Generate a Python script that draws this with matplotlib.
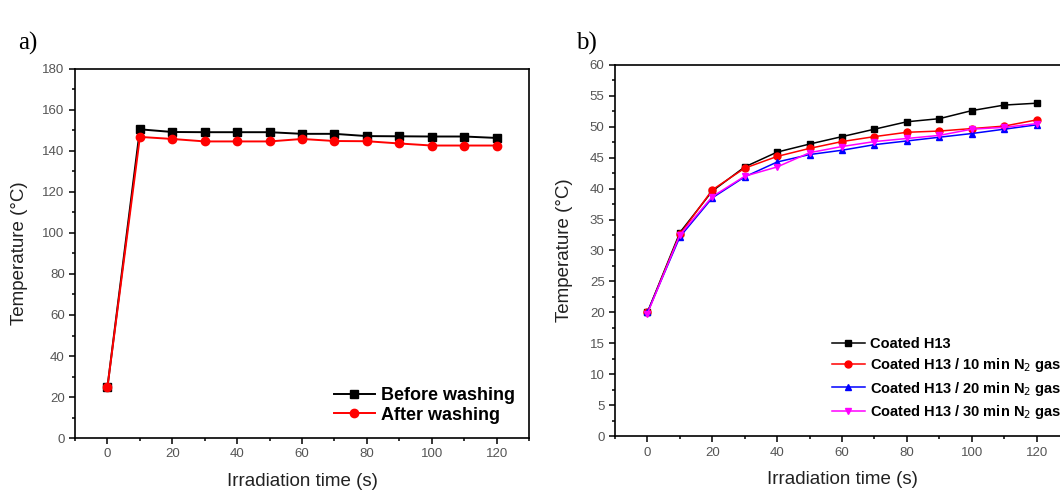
import matplotlib
matplotlib.use('Agg')
import matplotlib.pyplot as plt
from matplotlib.ticker import MultipleLocator

plt.rcParams['font.family'] = ['Liberation Sans', 'DejaVu Sans']

# panel a)
t_a = [0, 10, 20, 30, 40, 50, 60, 70, 80, 90, 100, 110, 120]
before = [25, 150.5, 149.2, 149.1, 149.1, 149.1, 148.3, 148.3, 147.2, 147.1, 147.0, 147.0, 146.3]
after = [25, 146.8, 145.8, 144.6, 144.6, 144.6, 145.8, 144.8, 144.7, 143.6, 142.6, 142.6, 142.6]

# panel b)
t_b = [0, 10, 20, 30, 40, 50, 60, 70, 80, 90, 100, 110, 120]
coated = [20.0, 32.9, 39.6, 43.5, 45.9, 47.2, 48.4, 49.6, 50.8, 51.3, 52.6, 53.5, 53.8]
n2_10 = [20.0, 32.6, 39.8, 43.3, 45.2, 46.5, 47.6, 48.4, 49.1, 49.3, 49.7, 50.1, 51.1]
n2_20 = [20.0, 32.2, 38.5, 41.9, 44.3, 45.5, 46.2, 47.1, 47.7, 48.3, 48.9, 49.6, 50.3]
n2_30 = [19.8, 32.5, 38.7, 42.0, 43.5, 45.8, 46.8, 47.6, 48.1, 48.6, 49.6, 49.9, 50.5]

fig = plt.figure(figsize=(10.6, 4.95), dpi=100)
ax1 = fig.add_axes([0.0708, 0.115, 0.4283, 0.746])
ax2 = fig.add_axes([0.5802, 0.119, 0.4283, 0.750])

def style(ax, ymax, ymaj, ymin, ypad):
  ax.set_xlim(-10, 130)
  ax.set_ylim(0, ymax)
  ax.xaxis.set_major_locator(MultipleLocator(20))
  ax.xaxis.set_minor_locator(MultipleLocator(10))
  ax.yaxis.set_major_locator(MultipleLocator(ymaj))
  ax.yaxis.set_minor_locator(MultipleLocator(ymin))
  ax.tick_params(which='major', direction='out', length=4, width=1.1,
                 labelsize=9.5, labelcolor='#555555')
  ax.tick_params(which='minor', direction='out', length=2.5, width=1.1)
  for s in ax.spines.values():
    s.set_linewidth(1.2)
  ax.set_xlabel('Irradiation time (s)', fontsize=13.5, color='#222222', labelpad=9)
  ax.set_ylabel('Temperature (°C)', fontsize=13.5, color='#222222', labelpad=ypad)
  # no tick label at -10
  ax.set_xticks([0, 20, 40, 60, 80, 100, 120])

style(ax1, 180, 20, 10, 10)
ax1.plot(t_a, before, 'k-s', lw=1.4, ms=6, label='Before washing')
ax1.plot(t_a, after, 'r-o', lw=1.4, ms=6, label='After washing')
ax1.legend(loc='lower right', frameon=False, prop={'weight': 'bold', 'size': 13},
           handlelength=2.3, labelspacing=0.15, handletextpad=0.3, borderaxespad=0.4)

style(ax2, 60, 5, 2.5, 12)
ax2.plot(t_b, coated, 'k-s', lw=1.1, ms=5, label='Coated H13')
ax2.plot(t_b, n2_10, '-o', color='red', lw=1.1, ms=5, label='Coated H13 / 10 min N$_2$ gas')
ax2.plot(t_b, n2_20, '-^', color='blue', lw=1.1, ms=5, label='Coated H13 / 20 min N$_2$ gas')
ax2.plot(t_b, n2_30, '-v', color='magenta', lw=1.1, ms=5, label='Coated H13 / 30 min N$_2$ gas')
ax2.legend(loc='lower right', bbox_to_anchor=(1.0, 0.02), frameon=False,
           prop={'weight': 'bold', 'size': 10.5}, handlelength=2.3,
           labelspacing=0.35, handletextpad=0.3, borderaxespad=0.15)

fig.text(0.017, 0.90, 'a)', fontsize=18, family='Liberation Serif')
fig.text(0.543, 0.90, 'b)', fontsize=18, family='Liberation Serif')

fig.savefig('out.png', dpi=100)
